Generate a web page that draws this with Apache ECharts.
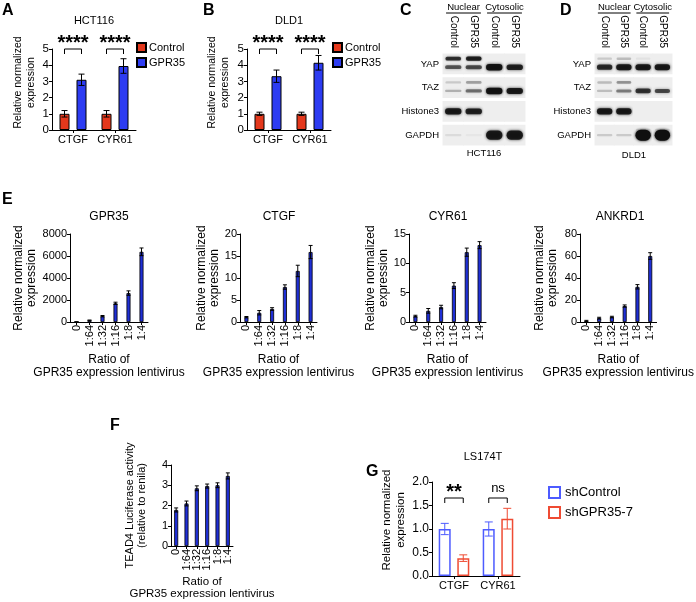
<!DOCTYPE html>
<html>
<head>
<meta charset="utf-8">
<script src="https://cdn.jsdelivr.net/npm/echarts@6/dist/echarts.min.js"></script>
<style>html,body{margin:0;padding:0;background:#fff}#c{width:696px;height:602px}</style>
</head>
<body>
<div id="c"></div>
<script>
// ---------------- DATA ----------------
const catsAB = ['CTGF', 'CYR61'];
const hctControl = [1.0, 1.0];
const hctControlErr = [0.2, 0.2];
const hctGPR35 = [3.1, 3.95];
const hctGPR35Err = [0.35, 0.45];
const dldControl = [1.0, 1.0];
const dldControlErr = [0.1, 0.1];
const dldGPR35 = [3.32, 4.15];
const dldGPR35Err = [0.38, 0.45];
const sigHCT = ['****', '****'];
const sigDLD = ['****', '****'];

const blotLanes = ['Control', 'GPR35', 'Control', 'GPR35'];
const blotGroups = ['Nuclear', 'Cytosolic'];
const blotRows = ['YAP', 'TAZ', 'Histone3', 'GAPDH'];
// intensities [row][lane]
const blotC_upper = [[0.75, 0.85, 0, 0], [0.15, 0.3, 0, 0], [0, 0, 0, 0], [0, 0, 0, 0]];
const blotC_main = [[0.6, 0.65, 0.95, 0.85], [0.25, 0.5, 0.95, 0.9], [0.9, 0.85, 0, 0], [0.08, 0.03, 0.9, 0.9]];
const blotD_upper = [[0.15, 0.2, 0.05, 0], [0.2, 0.35, 0, 0], [0, 0, 0, 0], [0, 0, 0.1, 0.1]];
const blotD_main = [[0.8, 0.9, 0.9, 0.9], [0.2, 0.45, 0.75, 0.65], [0.9, 0.9, 0, 0], [0.15, 0.15, 1.0, 1.0]];

const ratioCats = ['0', '1:64', '1:32', '1:16', '1:8', '1:4'];
const eGPR35 = [5, 150, 530, 1700, 2630, 6380];
const eGPR35Err = [5, 30, 60, 100, 200, 350];
const eCTGF = [1.1, 2.1, 2.95, 7.95, 11.6, 15.9];
const eCTGFErr = [0.15, 0.5, 0.3, 0.5, 1.3, 1.5];
const eCYR61 = [1.0, 1.9, 2.55, 6.2, 11.9, 13.1];
const eCYR61Err = [0.15, 0.4, 0.3, 0.5, 0.7, 0.6];
const eANKRD1 = [1, 3.5, 4.5, 14.5, 32, 60];
const eANKRD1Err = [0.5, 0.8, 0.7, 1, 2, 3];

const teadLuc = [1.78, 2.1, 2.85, 2.96, 3.0, 3.46];
const teadLucErr = [0.1, 0.12, 0.12, 0.1, 0.12, 0.15];

const lsCats = ['CTGF', 'CYR61'];
const lsShControl = [1.0, 1.0];
const lsShControlErr = [0.12, 0.15];
const lsShGPR35 = [0.38, 1.22];
const lsShGPR35Err = [0.07, 0.22];
const sigLS = ['**', 'ns'];

// ---------------- STYLE HELPERS ----------------
const FONT = 'Liberation Sans, Arial, Helvetica, sans-serif';
const RED = '#e4381c', BLUE = '#2d3cf2', EBLUE = '#1f2fd6';
const G_BLUE = '#4d5bff', G_RED = '#ef4b33';

function catAxis(gi, data, extra) {
  return Object.assign({
    type: 'category', gridIndex: gi, data: data,
    axisLine: { lineStyle: { color: '#000', width: 1 } },
    axisTick: { show: true, alignWithLabel: true, length: 3, lineStyle: { color: '#000' } },
    axisLabel: { color: '#000', fontSize: 11, fontFamily: FONT, margin: 3, interval: 0 },
    splitLine: { show: false }
  }, extra || {});
}
function valAxis(gi, max, interval, name, gap, extra) {
  return Object.assign({
    type: 'value', gridIndex: gi, min: 0, max: max, interval: interval,
    name: name, nameLocation: 'middle', nameRotate: 90, nameGap: gap,
    nameTextStyle: { color: '#000', fontSize: 12, fontFamily: FONT, lineHeight: 13 },
    axisLine: { show: true, lineStyle: { color: '#000', width: 1 } },
    axisTick: { show: true, length: 3, lineStyle: { color: '#000' } },
    axisLabel: { color: '#000', fontSize: 11, fontFamily: FONT, margin: 3, formatter: v => String(v) },
    splitLine: { show: false }
  }, extra || {});
}
function errSeries(gi, vals, errs, offset, cap, color, lw) {
  return {
    type: 'custom', xAxisIndex: gi, yAxisIndex: gi, z: 5, silent: true,
    data: vals.map((v, i) => [i, v, errs[i]]),
    encode: { x: 0, y: 1 },
    renderItem: function (params, api) {
      const i = api.value(0), m = api.value(1), e = api.value(2);
      const x = api.coord([i, m])[0] + offset;
      const yt = api.coord([i, m + e])[1];
      const yb = api.coord([i, Math.max(0, m - e)])[1];
      const st = { stroke: color, lineWidth: lw };
      return { type: 'group', children: [
        { type: 'line', shape: { x1: x, y1: yt, x2: x, y2: yb }, style: st },
        { type: 'line', shape: { x1: x - cap / 2, y1: yt, x2: x + cap / 2, y2: yt }, style: st },
        { type: 'line', shape: { x1: x - cap / 2, y1: yb, x2: x + cap / 2, y2: yb }, style: st }
      ] };
    }
  };
}
function sigSeries(gi, labels, off, dy, fontSize) {
  return {
    type: 'custom', xAxisIndex: gi, yAxisIndex: gi, z: 6, silent: true, clip: false,
    data: labels.map((l, i) => [i, 0]),
    encode: { x: 0, y: 1 },
    renderItem: function (params, api) {
      const i = api.value(0);
      const c = api.coord([i, 0])[0];
      const top = params.coordSys.y;
      const y = top + dy;
      const lab = labels[params.dataIndex];
      const isStar = lab.indexOf('*') >= 0;
      return { type: 'group', children: [
        { type: 'polyline', shape: { points: [[c - off, y + 5], [c - off, y], [c + off, y], [c + off, y + 5]] },
          style: { stroke: '#000', lineWidth: 1, fill: null } },
        { type: 'text', style: { text: lab, x: c, y: isStar ? y - 16 : y - 3, align: 'center',
          verticalAlign: isStar ? 'top' : 'bottom',
          font: (isStar ? 'bold ' : '') + (isStar ? fontSize : 13) + 'px ' + FONT, fill: '#000' } }
      ] };
    }
  };
}
function blotSeries(gi, upper, main) {
  const data = [];
  for (let r = 0; r < blotRows.length; r++)
    for (let l = 0; l < blotLanes.length; l++) data.push([l, r, upper[r][l], main[r][l]]);
  return {
    type: 'custom', xAxisIndex: gi, yAxisIndex: gi, silent: true,
    data: data, encode: { x: 0, y: 1 },
    renderItem: function (params, api) {
      const l = api.value(0), r = api.value(1), up = api.value(2), mn = api.value(3);
      const p = api.coord([l, r]);
      const sz = api.size([1, 1]);
      const w = sz[0], h = sz[1];
      const ch = [{ type: 'rect', shape: { x: p[0] - w / 2 - 0.5, y: p[1] - h / 2 + 1.5, width: w + 1, height: h - 3 },
        style: { fill: '#eeeeee' } }];
      const mainOff = r < 2 ? h * 0.14 : 0;
      if (mn > 0.01) {
        const bh = 2 + 5 * mn * mn + (r === 3 ? 4 * mn * mn : 0);
        ch.push({ type: 'rect', shape: { x: p[0] - w * 0.4, y: p[1] + mainOff - bh / 2, width: w * 0.8, height: bh, r: bh / 2 },
          style: { fill: 'rgba(15,15,15,' + mn + ')', shadowBlur: 3, shadowColor: 'rgba(15,15,15,' + mn + ')' } });
      }
      if (up > 0.01) {
        const bh = 2 + 2.5 * up;
        ch.push({ type: 'rect', shape: { x: p[0] - w * 0.38, y: p[1] - h * 0.22 - bh / 2, width: w * 0.76, height: bh, r: bh / 2 },
          style: { fill: 'rgba(15,15,15,' + up + ')', shadowBlur: 2, shadowColor: 'rgba(15,15,15,' + up + ')' } });
      }
      return { type: 'group', children: ch };
    }
  };
}
function headerSeries(gi) {
  return {
    type: 'custom', xAxisIndex: gi, yAxisIndex: gi, silent: true, clip: false,
    data: [[0, 0], [2, 0]], encode: { x: 0, y: 1 },
    renderItem: function (params, api) {
      const a = api.value(0);
      const w = api.size([1, 1])[0];
      const x1 = api.coord([a, 0])[0] - w * 0.35;
      const x2 = api.coord([a + 1, 0])[0] + w * 0.35;
      const y = params.coordSys.y - 39;
      return { type: 'line', shape: { x1: x1, y1: y, x2: x2, y2: y }, style: { stroke: '#000', lineWidth: 1 } };
    }
  };
}
function barS(name, gi, data, color, border, width, gap, bw) {
  return { type: 'bar', name: name, xAxisIndex: gi, yAxisIndex: gi, data: data, barWidth: width, barGap: gap,
    itemStyle: { color: color, borderColor: border, borderWidth: bw }, z: 3 };
}
function title(text, x, y, size, bold) {
  return { text: text, left: x, top: y, textAlign: 'center', padding: 0,
    textStyle: { fontSize: size, fontWeight: bold ? 'bold' : 'normal', color: '#000', fontFamily: FONT } };
}
function letter(text, x, y) {
  return { text: text, left: x, top: y, padding: 0,
    textStyle: { fontSize: 16, fontWeight: 'bold', color: '#000', fontFamily: FONT } };
}

const ylab = 'Relative normalized\nexpression';
const xlab = 'Ratio of\nGPR35 expression lentivirus';

// ---------------- OPTION ----------------
const grids = [
  { left: 52, top: 49, width: 84, height: 81 },   // 0 A
  { left: 247, top: 49, width: 84, height: 81 },  // 1 B
  { left: 443, top: 52, width: 82, height: 95 },  // 2 blot C
  { left: 595, top: 52, width: 77, height: 95 },  // 3 blot D
  { left: 70, top: 234, width: 78, height: 88 },  // 4 E1
  { left: 240, top: 234, width: 77, height: 88 }, // 5 E2
  { left: 409, top: 234, width: 77, height: 88 }, // 6 E3
  { left: 580, top: 234, width: 78, height: 88 }, // 7 E4
  { left: 171, top: 465, width: 62, height: 81 }, // 8 F
  { left: 432, top: 482, width: 88, height: 94 }  // 9 G
];

const abLabel = { color: '#000', fontSize: 11, fontFamily: FONT, margin: 4, interval: 0 };
const rotLabel = { color: '#000', fontSize: 11, fontFamily: FONT, margin: 3, rotate: 90, interval: 0 };
const xNameStyle = { color: '#000', fontSize: 12, fontFamily: FONT, lineHeight: 13 };

const xAxes = [
  catAxis(0, catsAB, { axisLabel: abLabel }),
  catAxis(1, catsAB, { axisLabel: abLabel }),
  { type: 'category', gridIndex: 2, data: blotLanes, position: 'top', axisLine: { show: false }, axisTick: { show: false },
    axisLabel: { rotate: 90, fontSize: 10, color: '#000', fontFamily: FONT, margin: 4, interval: 0 } },
  { type: 'category', gridIndex: 3, data: blotLanes, position: 'top', axisLine: { show: false }, axisTick: { show: false },
    axisLabel: { rotate: 90, fontSize: 10, color: '#000', fontFamily: FONT, margin: 4, interval: 0 } },
  catAxis(4, ratioCats, { axisLabel: rotLabel, name: xlab, nameLocation: 'middle', nameGap: 31, nameTextStyle: xNameStyle }),
  catAxis(5, ratioCats, { axisLabel: rotLabel, name: xlab, nameLocation: 'middle', nameGap: 31, nameTextStyle: xNameStyle }),
  catAxis(6, ratioCats, { axisLabel: rotLabel, name: xlab, nameLocation: 'middle', nameGap: 31, nameTextStyle: xNameStyle }),
  catAxis(7, ratioCats, { axisLabel: rotLabel, name: xlab, nameLocation: 'middle', nameGap: 31, nameTextStyle: xNameStyle }),
  catAxis(8, ratioCats, { axisLabel: rotLabel, name: xlab, nameLocation: 'middle', nameGap: 30,
    nameTextStyle: { color: '#000', fontSize: 11.5, fontFamily: FONT, lineHeight: 12 } }),
  catAxis(9, lsCats, { axisLabel: { color: '#000', fontSize: 11, fontFamily: FONT, margin: 4, interval: 0 } }),
  { type: 'category', gridIndex: 2, data: blotGroups, position: 'top', offset: 38, axisLine: { show: false }, axisTick: { show: false },
    axisLabel: { fontSize: 9.5, color: '#000', fontFamily: FONT, margin: 2, interval: 0 } },
  { type: 'category', gridIndex: 3, data: blotGroups, position: 'top', offset: 38, axisLine: { show: false }, axisTick: { show: false },
    axisLabel: { fontSize: 9.5, color: '#000', fontFamily: FONT, margin: 2, interval: 0 } }
];

const abName = { color: '#000', fontSize: 10.5, fontFamily: FONT, lineHeight: 13, padding: [0, 0, 0, 14] };
const yAxes = [
  valAxis(0, 5, 1, ylab, 14, { nameTextStyle: abName, axisLabel: { color: '#000', fontSize: 11.5, fontFamily: FONT, margin: 3 } }),
  valAxis(1, 5, 1, ylab, 15, { nameTextStyle: abName, axisLabel: { color: '#000', fontSize: 11.5, fontFamily: FONT, margin: 3 } }),
  { type: 'category', gridIndex: 2, data: blotRows, inverse: true, axisLine: { show: false }, axisTick: { show: false },
    axisLabel: { fontSize: 9.5, color: '#000', fontFamily: FONT, margin: 4 } },
  { type: 'category', gridIndex: 3, data: blotRows, inverse: true, axisLine: { show: false }, axisTick: { show: false },
    axisLabel: { fontSize: 9.5, color: '#000', fontFamily: FONT, margin: 4 } },
  valAxis(4, 8000, 2000, ylab, 32),
  valAxis(5, 20, 5, ylab, 19),
  valAxis(6, 15, 5, ylab, 18),
  valAxis(7, 80, 20, ylab, 21),
  valAxis(8, 4, 1, 'TEAD4 Luciferase activity\n(relative to renila)', 23,
    { nameTextStyle: { color: '#000', fontSize: 11, fontFamily: FONT, lineHeight: 12 } }),
  valAxis(9, 2, 0.5, ylab, 24, {
    nameTextStyle: { color: '#000', fontSize: 11.5, fontFamily: FONT, lineHeight: 14, padding: [0, 0, 0, 18] },
    axisLabel: { color: '#000', fontSize: 12, fontFamily: FONT, margin: 3, formatter: v => v.toFixed(1) } })
];

const series = [
  barS('Control', 0, hctControl, RED, '#000', 10, '70%', 1),
  barS('GPR35', 0, hctGPR35, BLUE, '#000', 10, '70%', 1),
  errSeries(0, hctControl, hctControlErr, -8.5, 6, '#000', 1),
  errSeries(0, hctGPR35, hctGPR35Err, 8.5, 6, '#000', 1),
  sigSeries(0, sigHCT, 8.5, 0, 20),
  barS('Control', 1, dldControl, RED, '#000', 10, '70%', 1),
  barS('GPR35', 1, dldGPR35, BLUE, '#000', 10, '70%', 1),
  errSeries(1, dldControl, dldControlErr, -8.5, 6, '#000', 1),
  errSeries(1, dldGPR35, dldGPR35Err, 8.5, 6, '#000', 1),
  sigSeries(1, sigDLD, 8.5, 0, 20),
  blotSeries(2, blotC_upper, blotC_main),
  blotSeries(3, blotD_upper, blotD_main),
  headerSeries(2),
  headerSeries(3),
  barS('GPR35 ', 4, eGPR35, EBLUE, '#000', 4, '0%', 0.8),
  errSeries(4, eGPR35, eGPR35Err, 0, 4, '#000', 1),
  barS('CTGF', 5, eCTGF, EBLUE, '#000', 4, '0%', 0.8),
  errSeries(5, eCTGF, eCTGFErr, 0, 4, '#000', 1),
  barS('CYR61', 6, eCYR61, EBLUE, '#000', 4, '0%', 0.8),
  errSeries(6, eCYR61, eCYR61Err, 0, 4, '#000', 1),
  barS('ANKRD1', 7, eANKRD1, EBLUE, '#000', 4, '0%', 0.8),
  errSeries(7, eANKRD1, eANKRD1Err, 0, 4, '#000', 1),
  barS('TEAD4', 8, teadLuc, EBLUE, '#000', 4, '0%', 0.8),
  errSeries(8, teadLuc, teadLucErr, 0, 4, '#000', 1),
  barS('shControl', 9, lsShControl, '#fff', G_BLUE, 12, '55%', 1.5),
  barS('shGPR35-7', 9, lsShGPR35, '#fff', G_RED, 12, '55%', 1.5),
  errSeries(9, lsShControl, lsShControlErr, -9.25, 8, G_BLUE, 1),
  errSeries(9, lsShGPR35, lsShGPR35Err, 9.25, 8, G_RED, 1),
  sigSeries(9, sigLS, 9.25, 16, 20)
];

const titles = [
  letter('A', 2, 3), letter('B', 203, 3), letter('C', 400, 3), letter('D', 560, 3),
  letter('E', 2, 192), letter('F', 110, 418), letter('G', 366, 464),
  title('HCT116', 94, 15, 11), title('DLD1', 289, 15, 11),
  title('HCT116', 484, 148, 9.5), title('DLD1', 634, 150, 9.5),
  title('GPR35', 109, 211, 12), title('CTGF', 279, 211, 12), title('CYR61', 448, 211, 12), title('ANKRD1', 620, 211, 12),
  title('LS174T', 483, 451, 11)
];

const legends = [
  { data: ['Control', 'GPR35'], left: 136, top: 42, orient: 'vertical', itemWidth: 9, itemHeight: 9, itemGap: 4,
    icon: 'rect', padding: 0, selectedMode: false, textStyle: { fontSize: 11, color: '#000', fontFamily: FONT, padding: [0, 0, 0, -2] } },
  { data: ['Control', 'GPR35'], left: 332, top: 42, orient: 'vertical', itemWidth: 9, itemHeight: 9, itemGap: 4,
    icon: 'rect', padding: 0, selectedMode: false, textStyle: { fontSize: 11, color: '#000', fontFamily: FONT, padding: [0, 0, 0, -2] } },
  { data: ['shControl', 'shGPR35-7'], left: 548, top: 486, orient: 'vertical', itemWidth: 11, itemHeight: 11, itemGap: 7,
    icon: 'rect', padding: 0, selectedMode: false, textStyle: { fontSize: 13, color: '#000', fontFamily: FONT } }
];

const chart = echarts.init(document.getElementById('c'), null, { width: 696, height: 602 });
chart.setOption({
  animation: false,
  backgroundColor: '#fff',
  textStyle: { fontFamily: FONT },
  title: titles,
  legend: legends,
  grid: grids,
  xAxis: xAxes,
  yAxis: yAxes,
  series: series
});
</script>
</body>
</html>
